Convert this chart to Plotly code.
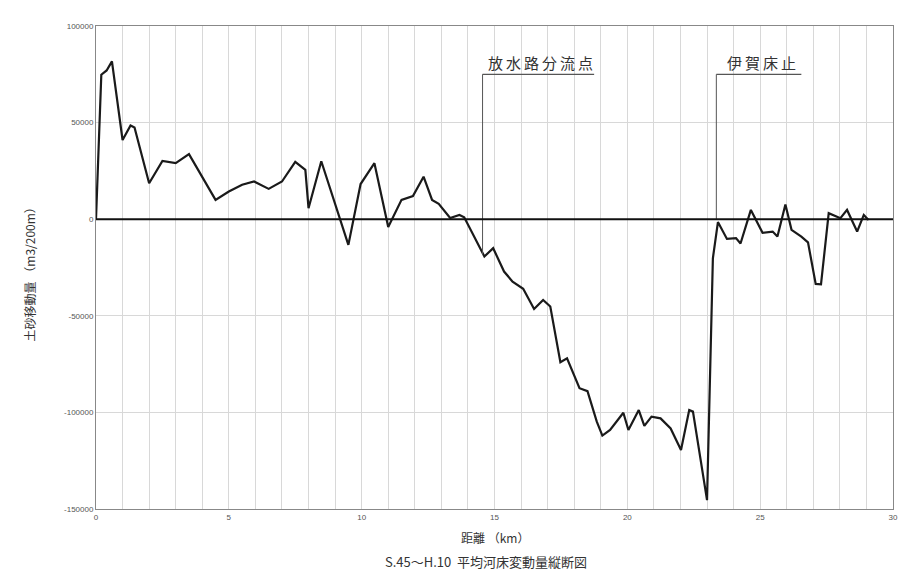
import plotly.graph_objects as go

# distance along river (km)
distance_km = [0, 0.2, 0.4, 0.6, 1.0, 1.3, 1.45, 2.0, 2.5, 3.0, 3.5, 4.5, 5.0, 5.5, 5.95,
               6.5, 7.0, 7.5, 7.88, 8.0, 8.48, 9.5, 9.96, 10.48, 11.0, 11.5, 11.93, 12.33,
               12.65, 12.9, 13.33, 13.68, 13.86, 14.62, 14.95, 15.36, 15.68, 16.08, 16.49,
               16.83, 17.1, 17.48, 17.73, 18.2, 18.5, 18.85, 19.06, 19.35, 19.85, 20.04,
               20.43, 20.64, 20.91, 21.25, 21.63, 22.02, 22.33, 22.47, 23.0, 23.22, 23.41,
               23.75, 24.09, 24.26, 24.65, 25.09, 25.47, 25.65, 25.95, 26.18, 26.55, 26.8,
               27.09, 27.29, 27.58, 28.02, 28.27, 28.65, 28.9, 29.08]
# sediment change (m3/200m)
volume = [0, 74800, 77000, 81700, 41000, 48500, 47500, 18600, 30200, 29000, 33700, 10000,
          14300, 17800, 19500, 15700, 19500, 29700, 25500, 5700, 30000, -13300, 18200,
          29000, -4000, 10000, 12000, 22000, 10000, 8000, 600, 2200, 1000, -19300, -15000,
          -27100, -32300, -36000, -46500, -41800, -45200, -74000, -72000, -87500, -89000,
          -104800, -112000, -109100, -100200, -109100, -98800, -107000, -102200, -103100,
          -108300, -119500, -98800, -99600, -145400, -20200, -1500, -10200, -9800, -12600,
          4800, -7000, -6400, -9000, 7600, -5500, -9000, -12000, -33500, -33700, 3100, 500,
          4800, -6400, 2200, -400]

y_ticks = [100000, 50000, 0, -50000, -100000, -150000]
x_ticks = [0, 5, 10, 15, 20, 25, 30]

# callout labels
callout_text = ["放水路分流点", "伊賀床止"]
callout_x = [14.55, 23.35]
callout_base = [-18500, 0]
callout_top = 75000
callout_end = [18.75, 26.55]

font_jp = "Noto Sans CJK JP"
THIN = "\u2009"

fig = go.Figure()
fig.add_trace(go.Scatter(x=distance_km, y=volume, mode="lines",
                         line=dict(color="#1a1a1a", width=2.2), showlegend=False))

shapes = []
annotations = []
for t, x0, yb, x1 in zip(callout_text, callout_x, callout_base, callout_end):
    shapes.append(dict(type="line", xref="x", yref="y", x0=x0, x1=x0, y0=yb, y1=callout_top,
                       line=dict(color="#555", width=1)))
    shapes.append(dict(type="line", xref="x", yref="y", x0=x0, x1=x1, y0=callout_top, y1=callout_top,
                       line=dict(color="#555", width=1.2)))
    annotations.append(dict(x=(x0 + x1) / 2 + 0.1, y=callout_top, xref="x", yref="y",
                            text=THIN.join(t), showarrow=False, xanchor="center",
                            yanchor="bottom", yshift=-1,
                            font=dict(family=font_jp, size=15, color="#333")))

# zero line
shapes.append(dict(type="line", xref="paper", yref="y", x0=0, x1=1, y0=0, y1=0,
                   line=dict(color="#111", width=2)))

annotations.append(dict(x=-0.0823, y=0.4928, xref="paper", yref="paper",
                        xanchor="center", yanchor="middle",
                        text="土砂移動量 （m3/200m）", textangle=-90, showarrow=False,
                        font=dict(family=font_jp, size=12, color="#333")))
annotations.append(dict(x=0.5, y=-0.060, xref="paper", yref="paper", text="距離 （km）",
                        xanchor="center", yanchor="middle",
                        showarrow=False, font=dict(family=font_jp, size=12, color="#333")))
annotations.append(dict(x=0.4888, y=-0.1077, xref="paper", yref="paper",
                        xanchor="center", yanchor="middle",
                        text="S.45～H.10  平均河床変動量縦断図", showarrow=False,
                        font=dict(family=font_jp, size=13, color="#333")))

fig.update_layout(
    width=898, height=565,
    margin=dict(l=88, r=8, t=18, b=64),
    paper_bgcolor="white", plot_bgcolor="white",
    shapes=shapes, annotations=annotations,
    xaxis=dict(range=[0, 30], tickvals=x_ticks, ticktext=[str(v) for v in x_ticks],
               showgrid=True, gridcolor="#d8d8d8", gridwidth=1,
               minor=dict(dtick=1, showgrid=True, gridcolor="#d8d8d8", gridwidth=1),
               showline=True, linecolor="#888", linewidth=1, mirror=True,
               zeroline=False, ticks="", tickfont=dict(size=8, color="#555", family="Liberation Sans")),
    yaxis=dict(range=[-150000, 100000], tickvals=y_ticks, ticktext=[str(v) for v in y_ticks],
               showgrid=True, gridcolor="#d8d8d8", gridwidth=1,
               showline=True, linecolor="#888", linewidth=1, mirror=True,
               zeroline=False, ticks="", tickfont=dict(size=8, color="#555", family="Liberation Sans")),
)

fig.write_html("out.html")
